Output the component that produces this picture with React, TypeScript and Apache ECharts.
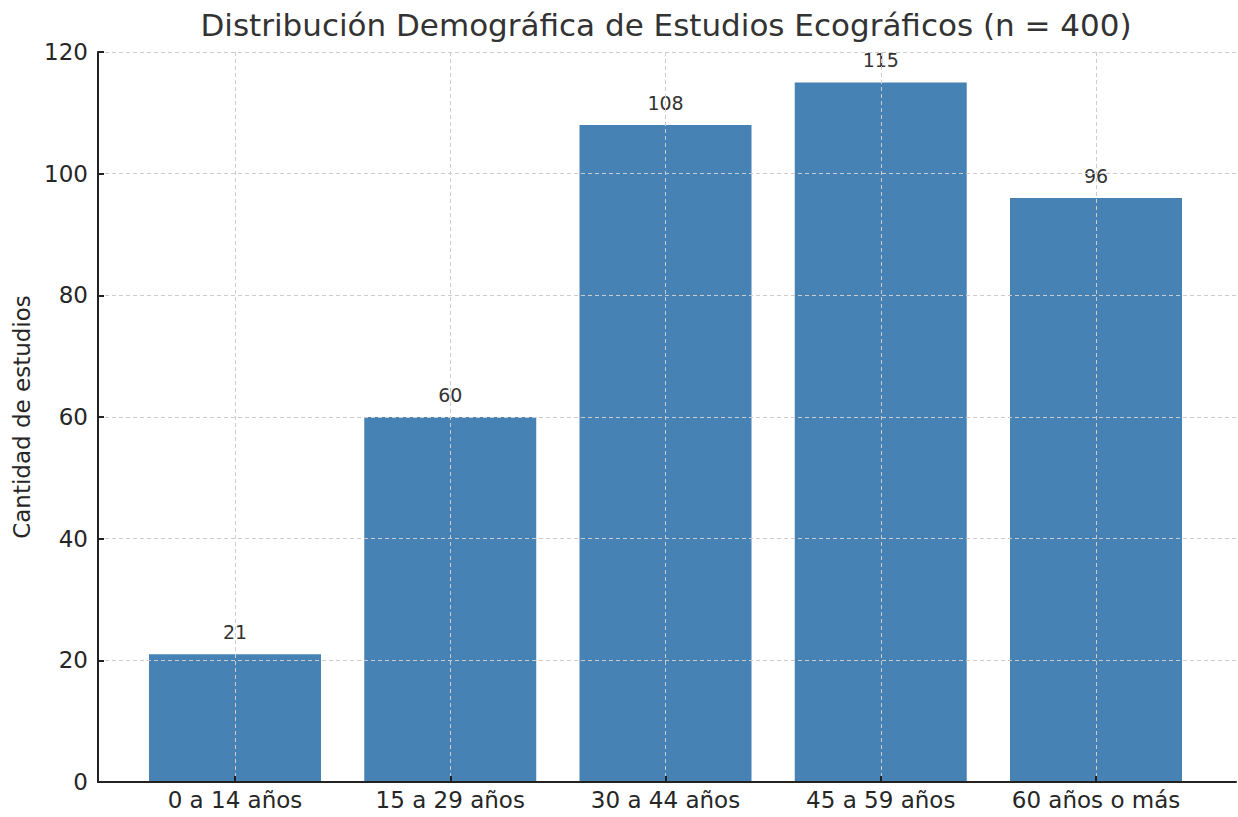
import React, { useEffect, useRef } from "react";
import * as echarts from "echarts";

const categories = ["0 a 14 años", "15 a 29 años", "30 a 44 años", "45 a 59 años", "60 años o más"];
const counts = [21, 60, 108, 115, 96];
const yTicks = [0, 20, 40, 60, 80, 100, 120];

const FONT = "DejaVu Sans";

export default function App() {
  const ref = useRef<HTMLDivElement>(null);
  useEffect(() => {
    document.body.style.margin = "0";
    const chart = echarts.init(ref.current!, null, { renderer: "svg" });
    const gridLine = { show: true, lineStyle: { color: "#cccccc", width: 1, type: [4, 3] } };
    chart.setOption({
      animation: false,
      backgroundColor: "#ffffff",
      textStyle: { fontFamily: FONT },
      title: {
        text: "Distribución Demográfica de Estudios Ecográficos (n = 400)",
        left: 661,
        textAlign: "center",
        top: 4,
        textStyle: { fontFamily: FONT, fontSize: 31, fontWeight: "normal", color: "#333333" },
      },
      grid: [
        { left: 98, right: 2, top: 52, bottom: 35 },
        { left: 235, right: 142, top: 52, bottom: 35 },
      ],
      xAxis: [
        {
          gridIndex: 0,
          type: "value",
          min: 0,
          max: 1,
          z: 6,
          axisLine: { show: true, lineStyle: { color: "#222222", width: 2 } },
          axisTick: { show: false },
          axisLabel: { show: false },
          splitLine: { show: false },
        },
        {
          gridIndex: 1,
          type: "category",
          data: categories,
          boundaryGap: false,
          z: 5,
          axisLine: { show: false },
          axisTick: { show: true, interval: 0, inside: true, length: 6, lineStyle: { color: "#222222", width: 2 } },
          axisLabel: { interval: 0, fontFamily: FONT, fontSize: 23, color: "#262626", margin: 6 },
          splitLine: { ...gridLine, interval: 0 },
        },
      ],
      yAxis: [
        {
          gridIndex: 0,
          type: "value",
          min: yTicks[0],
          max: yTicks[yTicks.length - 1],
          interval: 20,
          z: 6,
          name: "Cantidad de estudios",
          nameLocation: "middle",
          nameRotate: 90,
          nameGap: 59,
          nameTextStyle: { fontFamily: FONT, fontSize: 23, color: "#262626" },
          axisLine: { show: true, lineStyle: { color: "#222222", width: 2 } },
          axisTick: { show: true, inside: true, length: 6, lineStyle: { color: "#222222", width: 2 } },
          axisLabel: { fontFamily: FONT, fontSize: 23, color: "#262626", margin: 10 },
          splitLine: gridLine,
        },
        {
          gridIndex: 1,
          type: "value",
          min: yTicks[0],
          max: yTicks[yTicks.length - 1],
          show: false,
          splitLine: { show: false },
        },
      ],
      series: [
        {
          type: "bar",
          xAxisIndex: 1,
          yAxisIndex: 1,
          data: counts,
          barWidth: 172,
          clip: false,
          itemStyle: { color: "#4682B4" },
          label: {
            show: true,
            position: "top",
            distance: 13,
            fontFamily: FONT,
            fontSize: 19,
            color: "#333333",
          },
        },
      ],
    });
    return () => chart.dispose();
  }, []);
  return <div ref={ref} style={{ width: 1238, height: 817 }} />;
}
